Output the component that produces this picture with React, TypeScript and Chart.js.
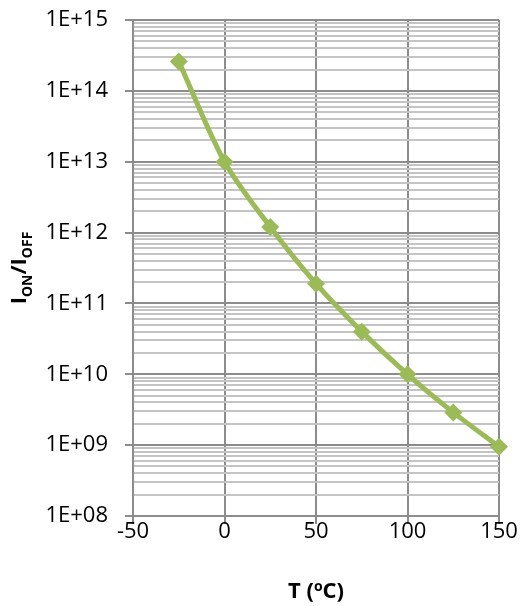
import { useEffect, useRef } from 'react';
import { Chart, registerables } from 'chart.js';

Chart.register(...registerables);

const temperatures = [-25, 0, 25, 50, 75, 100, 125, 150];
const onOffRatio = [2.6e14, 1.0e13, 1.2e12, 1.9e11, 4.0e10, 1.0e10, 2.9e9, 9.5e8];
const xTickValues = [-50, 0, 50, 100, 150];
const yDecadeExponents = [8, 9, 10, 11, 12, 13, 14, 15];

const FONT = '"Open Sans", sans-serif';
const MAJOR = '#8c8c8c';
const MINOR = '#c4c4c4';
const GREEN = '#9BBB59';

function isDecade(v: number) {
  const l = Math.log10(v);
  return Math.abs(l - Math.round(l)) < 1e-6;
}

type Part = [string, string, number];

function drawParts(ctx: CanvasRenderingContext2D, parts: Part[], cx: number, baseline: number) {
  let total = 0;
  const widths = parts.map(([t, f]) => {
    ctx.font = f;
    const w = ctx.measureText(t).width;
    total += w;
    return w;
  });
  let x = cx - total / 2;
  ctx.textAlign = 'left';
  ctx.textBaseline = 'alphabetic';
  parts.forEach(([t, f, dy], i) => {
    ctx.font = f;
    ctx.fillText(t, x, baseline + dy);
    x += widths[i];
  });
}

export default function App() {
  const ref = useRef<HTMLCanvasElement | null>(null);

  useEffect(() => {
    if (!ref.current) return;
    const big = `bold 22px ${FONT}`;
    const small = `bold 14px ${FONT}`;
    const titles = {
      id: 'titles',
      afterDraw(chart: any) {
        const ctx = chart.ctx as CanvasRenderingContext2D;
        const area = chart.chartArea;
        ctx.save();
        ctx.fillStyle = '#000';
        drawParts(ctx, [['T (', big, 0], ['o', small, -7], ['C)', big, 0]], (area.left + area.right) / 2, 598);
        ctx.translate(26, (area.top + area.bottom) / 2);
        ctx.rotate(-Math.PI / 2);
        drawParts(ctx, [['I', big, 0], ['ON', small, 6], ['/I', big, 0], ['OFF', small, 6]], 0, 0);
        ctx.restore();
      },
    };

    const yTickValues: number[] = [];
    yDecadeExponents.forEach((e, i) => {
      if (i === yDecadeExponents.length - 1) {
        yTickValues.push(Math.pow(10, e));
      } else {
        for (let m = 1; m <= 9; m++) yTickValues.push(m * Math.pow(10, e));
      }
    });

    const chart = new Chart(ref.current, {
      type: 'line',
      data: {
        datasets: [
          {
            data: temperatures.map((t, i) => ({ x: t, y: onOffRatio[i] })),
            borderColor: GREEN,
            backgroundColor: GREEN,
            borderWidth: 5,
            pointStyle: 'rectRot',
            pointRadius: 9,
            pointBorderWidth: 0,
            pointBackgroundColor: GREEN,
            tension: 0.3,
            clip: false as any,
          },
        ],
      },
      options: {
        animation: false,
        responsive: false,
        maintainAspectRatio: false,
        layout: { padding: { left: 0, right: 25, top: 20, bottom: 0 } },
        plugins: {
          legend: { display: false },
          tooltip: { enabled: false },
        },
        scales: {
          x: {
            type: 'linear',
            min: -50,
            max: 150,
            afterBuildTicks: (s: any) => {
              s.ticks = xTickValues.map((v) => ({ value: v }));
            },
            afterFit: (s: any) => {
              s.height = 90;
              s.paddingLeft = 0;
              s.paddingRight = 0;
            },
            grid: { color: MAJOR, lineWidth: 2, tickLength: 8, tickColor: MAJOR },
            border: { color: MAJOR, width: 2 },
            ticks: {
              font: { family: FONT, size: 22 },
              color: '#000',
              padding: -5,
              maxRotation: 0,
              autoSkip: false,
            },
          },
          y: {
            type: 'logarithmic',
            min: 1e8,
            max: 1e15,
            afterBuildTicks: (s: any) => {
              s.ticks = yTickValues.map((v) => ({ value: v, major: isDecade(v) }));
            },
            afterFit: (s: any) => {
              s.width = 133;
              s.paddingTop = 0;
              s.paddingBottom = 0;
            },
            grid: {
              color: (c: any) => (c.tick && !isDecade(c.tick.value) ? MINOR : MAJOR),
              lineWidth: 2,
              tickLength: 8,
              tickColor: (c: any) => (c.tick && !isDecade(c.tick.value) ? 'rgba(0,0,0,0)' : MAJOR),
            },
            border: { color: MAJOR, width: 2 },
            ticks: {
              font: { family: FONT, size: 22 },
              color: '#000',
              padding: 17,
              autoSkip: false,
              callback: (v: any) => {
                const n = Number(v);
                if (!isDecade(n)) return '';
                const e = Math.round(Math.log10(n));
                return '1E+' + String(e).padStart(2, '0');
              },
            },
          },
        },
      },
      plugins: [titles],
    });

    return () => chart.destroy();
  }, []);

  return (
    <div style={{ position: 'absolute', left: 0, top: 0, width: 524, height: 606, background: '#fff' }}>
      <canvas ref={ref} width={524} height={606} style={{ display: 'block' }} />
    </div>
  );
}
